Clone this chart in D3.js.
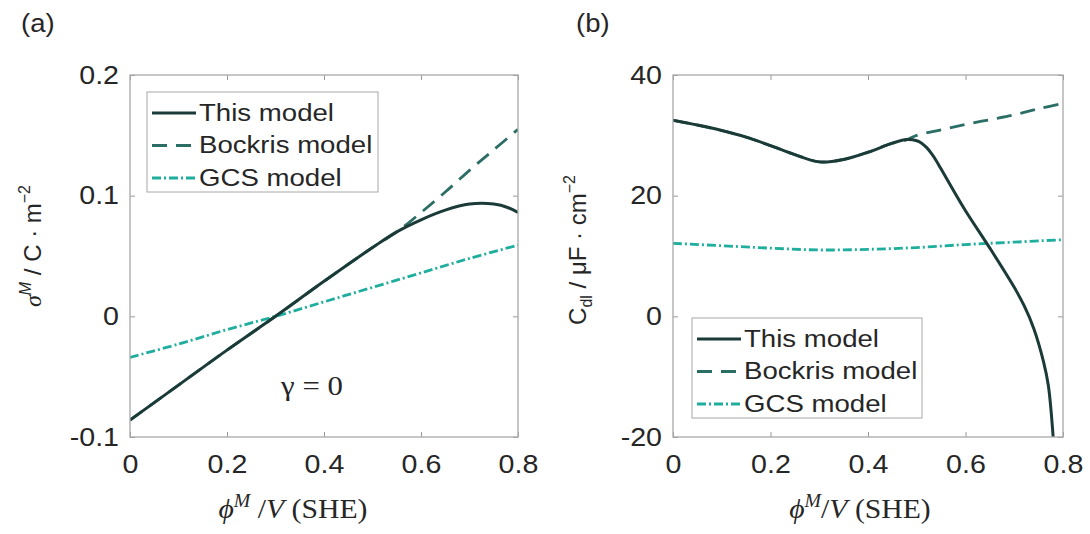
<!DOCTYPE html>
<html>
<head>
<meta charset="utf-8">
<script src="https://cdn.jsdelivr.net/npm/d3@7/dist/d3.min.js"></script>
<style>
  body { margin: 0; background: #fff; }
  svg text { font-family: "Liberation Sans", Arial, sans-serif; fill: #262626; }
  svg .serif { font-family: "Liberation Serif", "DejaVu Serif", serif; }
  .tick line { stroke: #9a9a9a; }
</style>
</head>
<body>
<svg width="1090" height="534"></svg>
<script>
// ---- data ----
var seriesNames = ["This model", "Bockris model", "GCS model"];
var xTicks = [0, 0.2, 0.4, 0.6, 0.8];

// (a) surface charge sigma^M vs potential
var potThisA = [0, 0.1, 0.2, 0.3, 0.4, 0.5, 0.55, 0.6, 0.65, 0.7, 0.75, 0.78, 0.8];
var sigmaThisA = [-0.086, -0.057, -0.028, 0.0, 0.029, 0.057, 0.070, 0.080, 0.088, 0.093, 0.093, 0.090, 0.086];
var potBockA = [0, 0.1, 0.2, 0.3, 0.4, 0.5, 0.55, 0.6, 0.65, 0.7, 0.75, 0.8];
var sigmaBockA = [-0.086, -0.057, -0.028, 0.0, 0.029, 0.057, 0.070, 0.086, 0.103, 0.121, 0.138, 0.155];
var potGcsA = [0, 0.1, 0.2, 0.3, 0.4, 0.5, 0.6, 0.7, 0.8];
var sigmaGcsA = [-0.034, -0.023, -0.011, 0.0, 0.012, 0.024, 0.036, 0.048, 0.059];
var yTicksA = [-0.1, 0, 0.1, 0.2];
var yTickLabelsA = ["-0.1", "0", "0.1", "0.2"];

// (b) double layer capacitance vs potential
var potThisB = [0, 0.05, 0.1, 0.15, 0.2, 0.25, 0.3, 0.35, 0.4, 0.45, 0.48, 0.5, 0.51, 0.52, 0.53, 0.54, 0.55, 0.57, 0.6, 0.65, 0.7, 0.72, 0.74, 0.76, 0.77, 0.78];
var capThisB = [32.5, 31.7, 30.8, 29.7, 28.3, 26.8, 25.6, 26.0, 27.2, 28.7, 29.3, 29.1, 28.7, 28.0, 27.0, 25.8, 24.4, 21.6, 17.5, 11.3, 4.8, 1.8, -2.0, -7.5, -11.5, -20.2];
var potBockB = [0, 0.05, 0.1, 0.15, 0.2, 0.25, 0.3, 0.35, 0.4, 0.45, 0.48, 0.5, 0.55, 0.6, 0.65, 0.7, 0.75, 0.8];
var capBockB = [32.5, 31.7, 30.8, 29.7, 28.3, 26.8, 25.6, 26.0, 27.2, 28.7, 29.3, 30.0, 30.9, 31.8, 32.6, 33.4, 34.4, 35.3];
var potGcsB = [0, 0.1, 0.2, 0.3, 0.4, 0.5, 0.6, 0.7, 0.8];
var capGcsB = [12.1, 11.7, 11.3, 11.0, 11.1, 11.4, 11.9, 12.3, 12.7];
var yTicksB = [-20, 0, 20, 40];

var colors = ["#1b3b38", "#2b6e66", "#1fae9e"];
var dashes = [null, "15,9", "9,3,2,3"];

var svg = d3.select("svg");
var top0 = 75, bottom0 = 437;
var sx = 1.1; // the source figure is a little stretched sideways

function zip(a, b) { return a.map(function(v, i) { return [v, b[i]]; }); }

function panel(opt) {
  var g = svg.append("g");
  var x = d3.scaleLinear().domain([0, 0.8]).range([opt.left, opt.right]);
  var y = d3.scaleLinear().domain(opt.yDomain).range([bottom0, top0]);

  var clipId = "clip" + opt.id;
  g.append("clipPath").attr("id", clipId)
    .append("rect").attr("x", opt.left).attr("y", top0)
    .attr("width", opt.right - opt.left).attr("height", bottom0 - top0);

  // axes (ticks inward on all four sides, MATLAB style)
  g.append("g").attr("transform", "translate(0," + bottom0 + ")")
    .call(d3.axisBottom(x).tickValues(xTicks).tickSize(-5).tickSizeOuter(0).tickPadding(18)
      .tickFormat(function(d) { return d === 0 ? "0" : d3.format(".1f")(d); }));
  g.append("g").attr("transform", "translate(0," + top0 + ")")
    .call(d3.axisTop(x).tickValues(xTicks).tickSize(-5).tickSizeOuter(0).tickFormat(""));
  g.append("g").attr("transform", "translate(" + opt.left + ",0)")
    .call(d3.axisLeft(y).tickValues(opt.yTicks).tickSize(-5).tickSizeOuter(0).tickPadding(10).tickFormat(opt.yFormat));
  g.append("g").attr("transform", "translate(" + opt.right + ",0)")
    .call(d3.axisRight(y).tickValues(opt.yTicks).tickSize(-5).tickSizeOuter(0).tickFormat(""));
  g.selectAll(".domain").remove();
  g.selectAll(".tick text")
    .attr("fill", "#262626").style("font-size", "26px")
    .attr("transform", "scale(" + sx + ",1)");

  // curves: Bockris and GCS under, this model on top
  var line = d3.line().curve(d3.curveCatmullRom.alpha(0.5))
    .x(function(d) { return x(d[0]); }).y(function(d) { return y(d[1]); });
  [1, 2, 0].forEach(function(k) {
    g.append("path").attr("clip-path", "url(#" + clipId + ")")
      .attr("d", line(opt.series[k]))
      .attr("fill", "none").attr("stroke", colors[k])
      .attr("stroke-width", k === 0 ? 3 : 2.8)
      .attr("stroke-dasharray", dashes[k]);
  });

  // frame
  g.append("rect").attr("x", opt.left).attr("y", top0)
    .attr("width", opt.right - opt.left).attr("height", bottom0 - top0)
    .attr("fill", "none").attr("stroke", "#a8a8a8").attr("stroke-width", 1.3);

  // legend
  var lg = g.append("g").attr("transform", "translate(" + opt.legend[0] + "," + opt.legend[1] + ")");
  lg.append("rect").attr("width", opt.legend[2]).attr("height", 100)
    .attr("fill", "#fff").attr("stroke", "#a8a8a8").attr("stroke-width", 1);
  seriesNames.forEach(function(name, k) {
    var yy = 21 + k * 32.5;
    lg.append("line").attr("x1", 5).attr("x2", 49).attr("y1", yy).attr("y2", yy)
      .attr("stroke", colors[k]).attr("stroke-width", 3).attr("stroke-dasharray", dashes[k]);
    lg.append("text").attr("x", 52 / 1.15).attr("y", yy + 8).style("font-size", "24px")
      .attr("transform", "scale(1.15,1)").text(name);
  });

  // x label
  var xl = g.append("text").attr("class", "serif").attr("transform", "scale(" + sx + ",1)")
    .attr("x", opt.xLabelX / sx).attr("y", 518).attr("text-anchor", "middle").style("font-size", "27px");
  xl.append("tspan").style("font-style", "italic").text("ϕ");
  xl.append("tspan").style("font-style", "italic").style("font-size", "18px").attr("dy", -11).text("M");
  xl.append("tspan").attr("dy", 11).text(opt.xGap);
  xl.append("tspan").style("font-style", "italic").text("V");
  xl.append("tspan").text(" (SHE)");

  // panel tag
  g.append("text").attr("transform", "scale(" + sx + ",1)")
    .attr("x", opt.tagX / sx).attr("y", 32).style("font-size", "25px").text(opt.tag);
  return g;
}

var gA = panel({
  id: "a", left: 130, right: 518, yDomain: [-0.1, 0.2], yTicks: yTicksA,
  yFormat: function(d) { return yTickLabelsA[yTicksA.indexOf(d)]; },
  series: [zip(potThisA, sigmaThisA), zip(potBockA, sigmaBockA), zip(potGcsA, sigmaGcsA)],
  legend: [147, 92, 231], xLabelX: 293, xGap: " /", tag: "(a)", tagX: 21
});
var gB = panel({
  id: "b", left: 673, right: 1063, yDomain: [-20, 40], yTicks: yTicksB,
  yFormat: function(d) { return String(d); },
  series: [zip(potThisB, capThisB), zip(potBockB, capBockB), zip(potGcsB, capGcsB)],
  legend: [692, 318, 230], xLabelX: 860, xGap: "/", tag: "(b)", tagX: 576
});

// gamma annotation in (a)
gA.append("text").attr("class", "serif").attr("transform", "scale(" + sx + ",1)")
  .attr("x", 312 / sx).attr("y", 395)
  .attr("text-anchor", "middle").style("font-size", "28px").text("γ = 0");

// y labels
var yla = svg.append("text").attr("transform", "translate(41,246) rotate(-90)")
  .attr("text-anchor", "middle").style("font-size", "24px");
yla.append("tspan").style("font-style", "italic").attr("class", "serif").text("σ");
yla.append("tspan").style("font-style", "italic").style("font-size", "16px").attr("dy", -10).text("M");
yla.append("tspan").attr("dy", 10).text(" / C · m");
yla.append("tspan").style("font-size", "16px").attr("dy", -11).text("−2");

var ylb = svg.append("text").attr("transform", "translate(586,250) rotate(-90)")
  .attr("text-anchor", "middle").style("font-size", "24px");
ylb.append("tspan").text("C");
ylb.append("tspan").style("font-size", "16px").attr("dy", 6).text("dl");
ylb.append("tspan").attr("dy", -6).text(" / μF · cm");
ylb.append("tspan").style("font-size", "16px").attr("dy", -11).text("−2");
</script>
</body>
</html>
